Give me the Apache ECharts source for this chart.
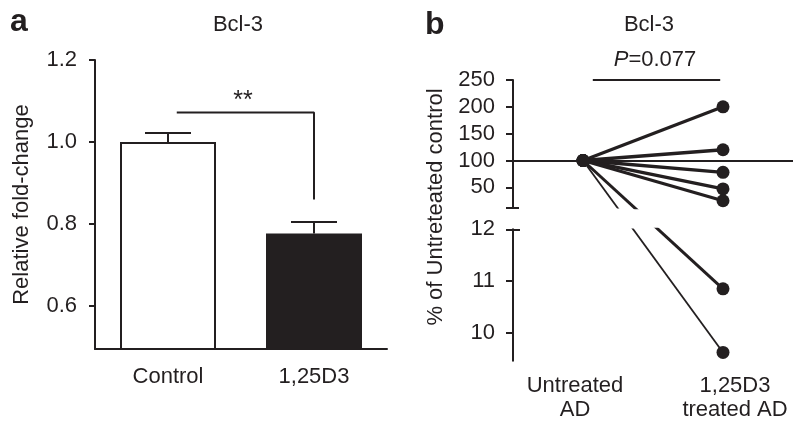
<!DOCTYPE html>
<html>
<head>
<meta charset="utf-8">
<script src="https://cdn.jsdelivr.net/npm/echarts@6/dist/echarts.min.js"></script>
<style>html,body{margin:0;padding:0;background:#fff}#main{width:800px;height:428px}</style>
</head>
<body>
<div id="main"></div>
<script>
// ---------- data: panel a ----------
const catsA = ['Control', '1,25D3'];
const meansA = [1.0, 0.777];
const errTopA = [1.022, 0.805];
const ticksA = [0.6, 0.8, 1.0, 1.2];
const sigLabelA = '**';
const bracketA = [[0.06, 1.072], [1, 1.072], [1, 0.86]];

// ---------- data: panel b ----------
const catsB = ['Untreated\nAD', '1,25D3\ntreated AD'];
const untreatedB = 100;
const treatedB = [200, 120, 78, 47, 25, 10.85, 9.62];
const ticksBUpper = [50, 100, 150, 200, 250];
const ticksBLower = [10, 11, 12];
const upperRangeB = [12, 250];
const lowerRangeB = [9.46, 12];
const refLineB = 100;
const bracketB = [[0.07, 250], [0.98, 250]];
const pLabelB = 'P=0.077';
const titleText = 'Bcl-3';

// ---------- styles ----------
const INK = '#231f20';
const FONT = "'Liberation Sans', Arial, Helvetica, sans-serif";
const subjectWidth = [3.3, 3.3, 3.3, 3.3, 3.3, 3, 1.8];

const chart = echarts.init(document.getElementById('main'));

const lineStyleAxis = { color: INK, width: 2 };
const labelStyle = { color: INK, fontSize: 22, fontFamily: FONT };

function baseOption() {
  return {
    animation: false,
    backgroundColor: '#fff',
    grid: [
      { left: 95, top: 60, width: 292, height: 289 },
      { left: 513, top: 80, width: 280, height: 127.7 },
      { left: 513, top: 229.3, width: 280, height: 131.4 }
    ],
    xAxis: [
      { type: 'category', gridIndex: 0, data: catsA,
        axisLine: { onZero: false, lineStyle: lineStyleAxis },
        axisTick: { alignWithLabel: true, length: 6, lineStyle: lineStyleAxis },
        axisLabel: Object.assign({ margin: 17 }, labelStyle) },
      { type: 'value', gridIndex: 0, min: -0.5, max: 1.5, show: false },
      { type: 'category', gridIndex: 1, data: catsB, show: false },
      { type: 'value', gridIndex: 1, min: -0.5, max: 1.5, show: false },
      { type: 'category', gridIndex: 2,
        data: [
          { value: catsB[0], textStyle: { padding: [0, 16, 0, 0] } },
          { value: catsB[1], textStyle: { padding: [0, 0, 0, 24] } }
        ],
        axisLine: { show: false, onZero: false }, axisTick: { show: false },
        axisLabel: Object.assign({ margin: 13, lineHeight: 24 }, labelStyle) }
    ],
    yAxis: [
      { type: 'value', gridIndex: 0, min: 0.495, max: 1.2, position: 'left',
        name: 'Relative fold-change', nameLocation: 'middle', nameGap: 62,
        nameTextStyle: { color: INK, fontSize: 22, fontFamily: FONT },
        axisLine: { show: true, onZero: false, lineStyle: lineStyleAxis },
        axisTick: { show: true, length: 6, customValues: ticksA, lineStyle: lineStyleAxis },
        axisLabel: Object.assign({ customValues: ticksA, margin: 18, formatter: v => v.toFixed(1) }, labelStyle),
        splitLine: { show: false } },
      { type: 'value', gridIndex: 1, min: upperRangeB[0], max: upperRangeB[1], position: 'left',
        axisLine: { show: true, onZero: false, lineStyle: lineStyleAxis },
        axisTick: { show: true, length: 7, customValues: [upperRangeB[0]].concat(ticksBUpper), lineStyle: lineStyleAxis },
        axisLabel: Object.assign({ customValues: ticksBUpper, margin: 18 }, labelStyle),
        splitLine: { show: false } },
      { type: 'value', gridIndex: 2, min: lowerRangeB[0], max: lowerRangeB[1], position: 'left',
        axisLine: { show: true, onZero: false, lineStyle: lineStyleAxis },
        axisTick: { show: true, length: 7, customValues: ticksBLower, lineStyle: lineStyleAxis },
        axisLabel: Object.assign({ customValues: ticksBLower, margin: 18 }, labelStyle),
        splitLine: { show: false } },
      { type: 'value', gridIndex: 1, min: upperRangeB[0], max: upperRangeB[1], position: 'left',
        axisLine: { show: false, onZero: false }, axisLabel: { show: false }, splitLine: { show: false },
        axisTick: { show: true, inside: true, length: 6, customValues: [upperRangeB[0]], lineStyle: lineStyleAxis } },
      { type: 'value', gridIndex: 2, min: lowerRangeB[0], max: lowerRangeB[1], position: 'left',
        axisLine: { show: false, onZero: false }, axisLabel: { show: false }, splitLine: { show: false },
        axisTick: { show: true, inside: true, length: 7, customValues: [lowerRangeB[1]], lineStyle: lineStyleAxis } }
    ],
    graphic: [
      { type: 'text', left: 10, top: 6, style: { text: 'a', fontSize: 32, fontWeight: 'bold', fontFamily: FONT, fill: INK } },
      { type: 'text', left: 425, top: 9, style: { text: 'b', fontSize: 32, fontWeight: 'bold', fontFamily: FONT, fill: INK } },
      { type: 'text', x: 238, y: 25, style: { text: titleText, fontSize: 22, fontFamily: FONT, fill: INK, align: 'center', verticalAlign: 'middle' } },
      { type: 'text', x: 649, y: 25, style: { text: titleText, fontSize: 22, fontFamily: FONT, fill: INK, align: 'center', verticalAlign: 'middle' } },
      { type: 'text', x: 655, y: 60, style: {
          text: '{i|' + pLabelB.slice(0, 1) + '}' + pLabelB.slice(1),
          fontSize: 22, fontFamily: FONT, fill: INK, align: 'center', verticalAlign: 'middle',
          rich: { i: { fontStyle: 'italic', fontSize: 22, fontFamily: FONT, fill: INK } } } },
      { type: 'text', x: 243, y: 101, style: { text: sigLabelA, fontSize: 25, fontFamily: FONT, fill: INK, align: 'center', verticalAlign: 'middle' } },
      { type: 'text', x: 436, y: 207, rotation: Math.PI / 2,
        style: { text: '% of Untreteated control', fontSize: 22, fontFamily: FONT, fill: INK, align: 'center', verticalAlign: 'middle' } }
    ],
    series: []
  };
}

// first pass: lay out axes so the library's scales can be queried
const opt = baseOption();
chart.setOption(opt);

const seriesList = [];

// panel a bars
seriesList.push({
  type: 'bar', xAxisIndex: 0, yAxisIndex: 0, barWidth: 96, silent: true,
  data: meansA.map((v, i) => ({ value: v,
    itemStyle: i === 0 ? { color: '#fff', borderColor: INK, borderWidth: 2 } : { color: INK } }))
});
// panel a error bars
seriesList.push({
  type: 'custom', xAxisIndex: 1, yAxisIndex: 0, silent: true, z: 5,
  data: meansA.map((m, i) => [i, m, errTopA[i]]),
  renderItem: function (params, api) {
    const x = api.value(0), m = api.value(1), t = api.value(2);
    const pm = api.coord([x, m]), pt = api.coord([x, t]);
    return { type: 'group', children: [
      { type: 'line', shape: { x1: pm[0], y1: pm[1], x2: pt[0], y2: pt[1] }, style: { stroke: INK, lineWidth: 2 } },
      { type: 'line', shape: { x1: pt[0] - 23, y1: pt[1], x2: pt[0] + 23, y2: pt[1] }, style: { stroke: INK, lineWidth: 2 } }
    ] };
  }
});
// panel a significance bracket
seriesList.push({
  type: 'line', xAxisIndex: 1, yAxisIndex: 0, data: bracketA, symbol: 'none', clip: false, silent: true,
  lineStyle: { color: INK, width: 2 }
});

// panel b: reference line at 100
seriesList.push({
  type: 'line', xAxisIndex: 2, yAxisIndex: 1, data: [], silent: true,
  markLine: { silent: true, symbol: 'none', label: { show: false },
    lineStyle: { color: INK, width: 2, type: 'solid' }, data: [{ yAxis: refLineB }] }
});

// panel b: subject lines (straight in screen space across the axis break)
const pStart = chart.convertToPixel({ xAxisIndex: 2, yAxisIndex: 1 }, [0, untreatedB]);
const lowerStartVal = chart.convertFromPixel({ xAxisIndex: 4, yAxisIndex: 2 }, pStart)[1];

treatedB.forEach((v, i) => {
  const common = { type: 'line', clip: true, silent: true, symbolSize: 13, symbol: 'circle',
    itemStyle: { color: INK }, lineStyle: { color: INK, width: subjectWidth[i] }, z: 3 };
  if (v >= upperRangeB[0]) {
    seriesList.push(Object.assign({ xAxisIndex: 2, yAxisIndex: 1, data: [[0, untreatedB], [1, v]] }, common));
  } else {
    const pEnd = chart.convertToPixel({ xAxisIndex: 4, yAxisIndex: 2 }, [1, v]);
    const upperEndVal = chart.convertFromPixel({ xAxisIndex: 2, yAxisIndex: 1 }, pEnd)[1];
    seriesList.push(Object.assign({ xAxisIndex: 2, yAxisIndex: 1,
      data: [[0, untreatedB], { value: [1, upperEndVal], symbol: 'none' }] }, common));
    seriesList.push(Object.assign({ xAxisIndex: 4, yAxisIndex: 2,
      data: [{ value: [0, lowerStartVal], symbol: 'none' }, [1, v]] }, common));
  }
});

// panel b bracket
seriesList.push({
  type: 'line', xAxisIndex: 3, yAxisIndex: 1, data: bracketB, symbol: 'none', clip: false, silent: true,
  lineStyle: { color: INK, width: 2 }
});

opt.series = seriesList;
chart.setOption(opt, true);
</script>
</body>
</html>
